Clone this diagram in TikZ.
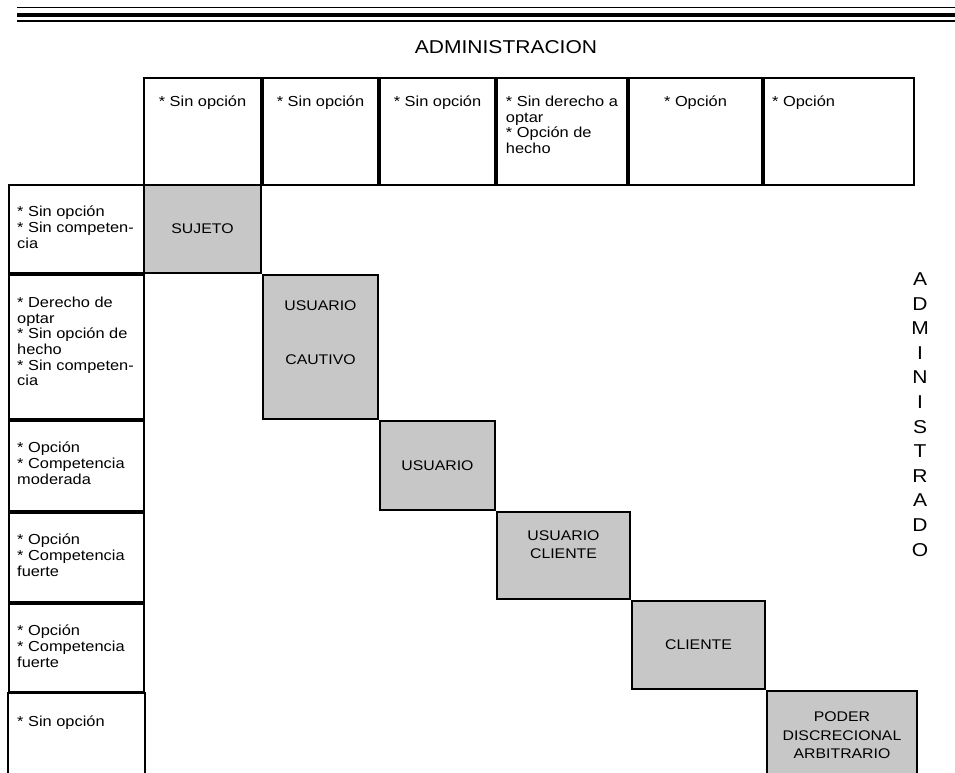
\documentclass[tikz,border=0pt]{standalone}
\usepackage{fontspec}
\setmainfont[FakeStretch=1.13]{Liberation Sans}
\usetikzlibrary{positioning}
\newcommand{\cellfont}{\fontsize{14.5}{15.6}\selectfont}
\newcommand{\boxfont}{\fontsize{14}{18.5}\selectfont}
\newcommand{\titlefont}{\fontsize{18.6}{24.6}\selectfont}

\begin{document}
\begin{tikzpicture}[x=1pt,y=-1pt]
  \tikzstyle{cell}=[draw, line width=2pt, inner sep=0pt, anchor=north west]
  \tikzstyle{grey cell}=[cell, fill=black!22]
  \tikzstyle{cell text}=[font=\cellfont, align=left, inner sep=0pt, anchor=north]
  \tikzstyle{box label}=[font=\boxfont, align=center, inner sep=0pt]
  \useasboundingbox (0,0) rectangle (955,772);

  % rules at the top of the page
  \draw[line width=1.2pt] (17,7.5) -- (955,7.5);
  \draw[line width=3.5pt] (17,15) -- (955,15);
  \draw[line width=1.6pt] (17,21) -- (955,21);

  \node[font=\titlefont] (title) at (506,47) {ADMINISTRACION};

  % header row
  \node[cell, minimum width=117pt, minimum height=107pt] (h1) at (143,77) {};
  \node[cell, minimum width=115pt, minimum height=107pt] (h2) at (h1.north east) {};
  \node[cell, minimum width=115pt, minimum height=107pt] (h3) at (h2.north east) {};
  \node[cell, minimum width=130pt, minimum height=107pt] (h4) at (h3.north east) {};
  \node[cell, minimum width=133pt, minimum height=107pt] (h5) at (h4.north east) {};
  \node[cell, minimum width=150pt, minimum height=107pt] (h6) at (h5.north east) {};
  \node[cell text] at ([yshift=-19pt]h1.north) {* Sin opción};
  \node[cell text] at ([yshift=-19pt]h2.north) {* Sin opción};
  \node[cell text] at ([yshift=-19pt]h3.north) {* Sin opción};
  \node[cell text] at ([yshift=-19pt]h4.north) {* Sin derecho a\\optar\\* Opción de\\hecho};
  \node[cell text] at ([yshift=-19pt]h5.north) {* Opción};
  \node[cell text, anchor=north west] at ([xshift=9pt,yshift=-19pt]h6.north west) {* Opción};

  % left column
  \node[cell, minimum width=135pt, minimum height=88pt] (r1) at (8,184) {};
  \node[cell, minimum width=135pt, minimum height=144pt] (r2) at (r1.south west) {};
  \node[cell, minimum width=135pt, minimum height=90pt] (r3) at (r2.south west) {};
  \node[cell, minimum width=135pt, minimum height=89pt] (r4) at (r3.south west) {};
  \node[cell, minimum width=135pt, minimum height=88pt] (r5) at (r4.south west) {};
  \node[cell, draw=none, minimum width=135pt, minimum height=89pt] (r6) at (r5.south west) {};
  \draw[line width=2pt] (r6.south west) -- (r6.north west) -- (r6.north east) -- (r6.south east);
  \node[cell text, anchor=north west] at ([xshift=9pt,yshift=-22pt]r1.north west) {* Sin opción\\* Sin competen-\\cia};
  \node[cell text, anchor=north west] at ([xshift=9pt,yshift=-23pt]r2.north west) {* Derecho de\\optar\\* Sin opción de\\hecho\\* Sin competen-\\cia};
  \node[cell text, anchor=north west] at ([xshift=9pt,yshift=-22pt]r3.north west) {* Opción\\* Competencia\\moderada};
  \node[cell text, anchor=north west] at ([xshift=9pt,yshift=-22pt]r4.north west) {* Opción\\* Competencia\\fuerte};
  \node[cell text, anchor=north west] at ([xshift=9pt,yshift=-22pt]r5.north west) {* Opción\\* Competencia\\fuerte};
  \node[cell text, anchor=north west] at ([xshift=9pt,yshift=-23pt]r6.north west) {* Sin opción};

  % staircase of grey boxes
  \node[grey cell, minimum width=117pt, minimum height=88pt] (sujeto) at (143,184) {};
  \node[grey cell, minimum width=115pt, minimum height=144pt] (cautivo) at (sujeto.south east) {};
  \node[grey cell, minimum width=115pt, minimum height=89pt] (usuario) at (cautivo.south east) {};
  \node[grey cell, minimum width=133pt, minimum height=87pt] (usucliente) at (usuario.south east) {};
  \node[grey cell, minimum width=133pt, minimum height=88pt] (cliente) at (usucliente.south east) {};
  \node[grey cell, minimum width=150pt, minimum height=89pt] (poder) at (cliente.south east) {};
  \node[box label] at (sujeto.center) {SUJETO};
  \node[box label] at ([yshift=14pt]cautivo.center) {USUARIO\\[35.5pt]CAUTIVO};
  \node[box label] at (usuario.center) {USUARIO};
  \node[box label] at ([yshift=11pt]usucliente.center) {USUARIO\\CLIENTE};
  \node[box label] at (cliente.center) {CLIENTE};
  \node[box label] at (poder.center) {PODER\\DISCRECIONAL\\ARBITRARIO};

  \node[font=\titlefont, align=center, inner sep=0pt] (side) at (920,414.5)
    {A\\D\\M\\I\\N\\I\\S\\T\\R\\A\\D\\O};
\end{tikzpicture}
\end{document}
